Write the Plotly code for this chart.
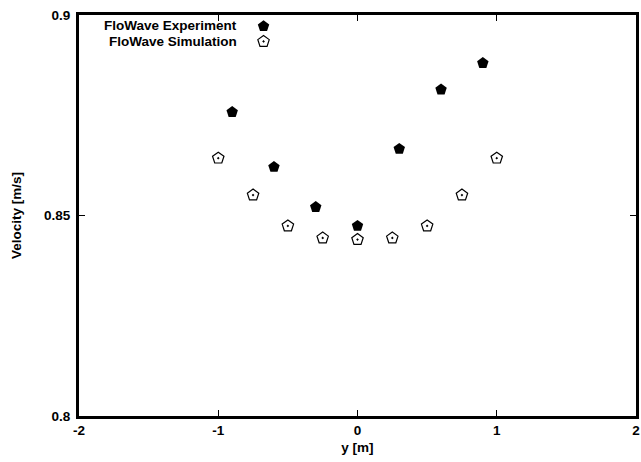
import plotly.graph_objects as go

# ---- data ----
SERIES_NAMES = ["FloWave Experiment", "FloWave Simulation"]
exp_y_pos = [-0.9, -0.6, -0.3, 0.0, 0.3, 0.6, 0.9]
exp_velocity = [0.8758, 0.8621, 0.8521, 0.8474, 0.8666, 0.8814, 0.8880]
sim_y_pos = [-1.0, -0.75, -0.5, -0.25, 0.0, 0.25, 0.5, 0.75, 1.0]
sim_velocity = [0.8643, 0.8551, 0.8474, 0.8444, 0.8440, 0.8444, 0.8474, 0.8551, 0.8643]
x_ticks = [-2, -1, 0, 1, 2]
y_ticks = [0.8, 0.85, 0.9]
X_TITLE = "y [m]"
Y_TITLE = "Velocity [m/s]"

FONT = "Liberation Sans, Arial, Helvetica, sans-serif"
FS = 13.5

fig = go.Figure()
fig.add_trace(go.Scatter(
    x=exp_y_pos, y=exp_velocity, mode="markers", name=" ",
    hovertext=SERIES_NAMES[0], legend="legend",
    marker=dict(symbol="pentagon", size=12, color="black",
                line=dict(width=0)),
))
fig.add_trace(go.Scatter(
    x=sim_y_pos, y=sim_velocity, mode="markers", name=" ",
    hovertext=SERIES_NAMES[1], legend="legend2",
    marker=dict(symbol="pentagon-open-dot", size=12, color="black",
                line=dict(width=1.2, color="black")),
))

axis_common = dict(
    showgrid=False, zeroline=False, automargin=False,
    showline=True, linewidth=3, linecolor="black", mirror="ticks",
    ticks="inside", ticklen=6, tickwidth=1, tickcolor="black",
    tickfont=dict(family=FONT, size=FS, color="black", weight="bold"),
)

fig.update_xaxes(
    range=[-2, 2], tickvals=x_ticks, ticktext=[str(v) for v in x_ticks],
    title=dict(text=X_TITLE, font=dict(family=FONT, size=FS, color="black", weight="bold"), standoff=6),
    ticklabelstandoff=0,
    **axis_common,
)
fig.update_yaxes(
    range=[0.8, 0.9], tickvals=y_ticks, ticktext=["0.8", "0.85", "0.9"],
    title=dict(text=Y_TITLE, font=dict(family=FONT, size=FS, color="black", weight="bold"), standoff=20),
    ticklabelstandoff=3,
    **axis_common,
)

leg_common = dict(
    bgcolor="rgba(0,0,0,0)", borderwidth=0,
    font=dict(family=FONT, size=12, color="black"),
    xanchor="left", yanchor="middle", itemwidth=30,
)
fig.update_layout(
    width=641, height=462,
    margin=dict(l=79, r=5, t=15, b=46),
    paper_bgcolor="white", plot_bgcolor="white",
    showlegend=True,
    legend=dict(x=0.2954, y=0.972, **leg_common),
    legend2=dict(x=0.2954, y=0.934, **leg_common),
    font=dict(family=FONT, size=FS, color="black"),
)

for name, yp in zip(SERIES_NAMES, [0.974, 0.934]):
    fig.add_annotation(
        xref="paper", yref="paper", x=0.2864, y=yp, text=name,
        showarrow=False, xanchor="right", yanchor="middle",
        font=dict(family=FONT, size=FS, color="black", weight="bold"),
    )

fig.write_html("out.html")
